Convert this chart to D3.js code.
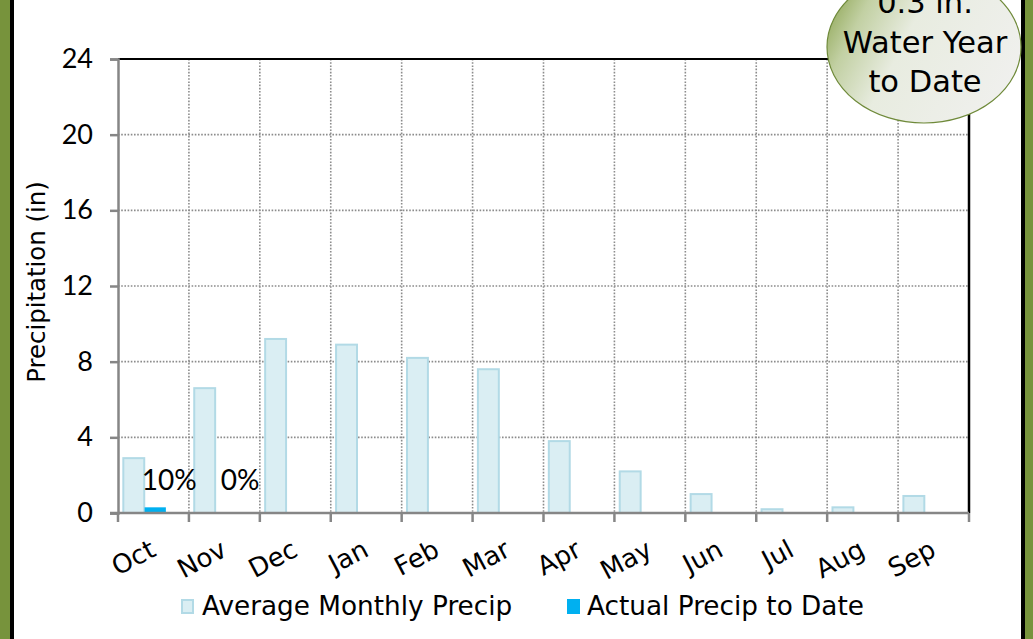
<!DOCTYPE html>
<html><head><meta charset="utf-8">
<script src="https://cdn.jsdelivr.net/npm/d3@7"></script>
<style>
html,body{margin:0;padding:0;background:#fff;}
svg{display:block;font-family:"DejaVu Sans",sans-serif;}
.num{font-family:"Lato","DejaVu Sans",sans-serif;}
</style></head>
<body><svg id="c" width="1033" height="639"></svg>
<script>
const months = ["Oct","Nov","Dec","Jan","Feb","Mar","Apr","May","Jun","Jul","Aug","Sep"];
const avgPrecip = [2.9,6.6,9.2,8.9,8.2,7.6,3.8,2.2,1.0,0.2,0.3,0.9];
const actualPrecip = [0.3,0,null,null,null,null,null,null,null,null,null,null];
const pctLabels = ["10%","0%",null,null,null,null,null,null,null,null,null,null];
const yTicks = [0,4,8,12,16,20,24];
const seriesNames = ["Average Monthly Precip","Actual Precip to Date"];
const yTitle = "Precipitation (in)";
const bubbleLines = ["0.3 in.","Water Year","to Date"];

const svg = d3.select("#c");
const W = 1033, H = 639;
const m = {left:118, right:969, top:59, bottom:513};

// frame
svg.append("rect").attr("x",0).attr("y",0).attr("width",10).attr("height",H).attr("fill","#77933C");
svg.append("rect").attr("x",10).attr("y",0).attr("width",4).attr("height",H).attr("fill","#000");
svg.append("rect").attr("x",1021).attr("y",0).attr("width",4).attr("height",H).attr("fill","#000");
svg.append("rect").attr("x",1025).attr("y",0).attr("width",8).attr("height",H).attr("fill","#77933C");

const x = d3.scaleBand().domain(months).range([m.left,m.right]).padding(0);
const y = d3.scaleLinear().domain([0,24]).range([m.bottom,m.top]);
const bw = x.bandwidth();

// gridlines
const g = svg.append("g");
g.selectAll("line.hg").data(yTicks.filter(d=>d>0&&d<24)).join("line")
  .attr("x1",m.left).attr("x2",m.right).attr("y1",d=>y(d)).attr("y2",d=>y(d))
  .attr("stroke","#8c8c8c").attr("stroke-width",1.6).attr("stroke-dasharray","1.6,1.6");
g.selectAll("line.vg").data(months.slice(1)).join("line")
  .attr("x1",d=>x(d)).attr("x2",d=>x(d)).attr("y1",m.top).attr("y2",m.bottom)
  .attr("stroke","#8c8c8c").attr("stroke-width",1.6).attr("stroke-dasharray","1.6,1.6");

// plot border top/right
svg.append("line").attr("x1",m.left).attr("x2",m.right+1).attr("y1",m.top).attr("y2",m.top).attr("stroke","#000").attr("stroke-width",2);
svg.append("line").attr("x1",m.right).attr("x2",m.right).attr("y1",m.top).attr("y2",m.bottom).attr("stroke","#000").attr("stroke-width",2.5);

// bars
svg.append("g").selectAll("rect").data(months).join("rect")
  .attr("x",d=>x(d)+bw*0.075).attr("width",bw*0.295)
  .attr("y",(d,i)=>y(avgPrecip[i])).attr("height",(d,i)=>y(0)-y(avgPrecip[i]))
  .attr("fill","#DAEEF3").attr("stroke","#B2DAE6").attr("stroke-width",2);
svg.append("g").selectAll("rect").data(months.filter((d,i)=>actualPrecip[i]!=null)).join("rect")
  .attr("x",d=>x(d)+bw*0.375).attr("width",bw*0.3)
  .attr("y",d=>y(actualPrecip[months.indexOf(d)])).attr("height",d=>y(0)-y(actualPrecip[months.indexOf(d)]))
  .attr("fill","#00B0F0");

// data labels
svg.append("g").selectAll("text").data(months.filter((d,i)=>pctLabels[i]!=null)).join("text")
  .attr("class","num")
  .attr("x",d=>x(d)+bw*0.525+14).attr("y",y(0)-23)
  .attr("text-anchor","middle").attr("font-size",28).attr("fill","#000")
  .text(d=>pctLabels[months.indexOf(d)]);

// axes
const ya = d3.axisLeft(y).tickValues(yTicks).tickSize(8).tickPadding(17).tickFormat(d3.format("d"));
const yg = svg.append("g").attr("transform",`translate(${m.left},0)`).call(ya);
yg.select(".domain").attr("stroke","#868686").attr("stroke-width",2.5);
yg.selectAll(".tick line").attr("stroke","#868686").attr("stroke-width",2.5);
yg.selectAll(".tick text").attr("class","num").attr("font-size",27).attr("fill","#000").attr("font-family",null);
yg.attr("font-family",null).attr("font-size",null);

const xb = svg.append("g");
xb.append("line").attr("x1",m.left-8).attr("x2",m.right).attr("y1",m.bottom).attr("y2",m.bottom).attr("stroke","#868686").attr("stroke-width",2.5);
const bounds = months.map(d=>x(d)).concat([m.right]);
xb.selectAll("line.t").data(bounds).join("line").attr("class","t")
  .attr("x1",d=>d).attr("x2",d=>d).attr("y1",m.bottom).attr("y2",m.bottom+9)
  .attr("stroke","#868686").attr("stroke-width",2.5);
xb.selectAll("text").data(months).join("text")
  .attr("transform",d=>`translate(${x(d)+bw/2+4},${m.bottom+42}) rotate(-28)`)
  .attr("text-anchor","end").attr("font-size",26).text(d=>d);

// y title
svg.append("text").attr("transform",`translate(45,${282}) rotate(-90)`)
  .attr("text-anchor","middle").attr("font-size",24.4).text(yTitle);

// legend
const lg = svg.append("g");
lg.append("rect").attr("x",182).attr("y",600).attr("width",11).attr("height",13).attr("fill","#DAEEF3").attr("stroke","#B2DAE6").attr("stroke-width",2);
lg.append("text").attr("x",202).attr("y",615).attr("font-size",26.3).text(seriesNames[0]);
lg.append("rect").attr("x",567).attr("y",599).attr("width",13).attr("height",15).attr("fill","#00B0F0");
lg.append("text").attr("x",587).attr("y",615).attr("font-size",26.3).text(seriesNames[1]);

// bubble
const defs = svg.append("defs");
const gr = defs.append("linearGradient").attr("id","bg").attr("x1","0").attr("y1","0.3").attr("x2","1").attr("y2","0.7");
gr.append("stop").attr("offset","0").attr("stop-color","#97ad62");
gr.append("stop").attr("offset","0.15").attr("stop-color","#c2d0a3");
gr.append("stop").attr("offset","0.4").attr("stop-color","#e8ece0");
gr.append("stop").attr("offset","1").attr("stop-color","#f0f0ee");
svg.append("ellipse").attr("cx",924).attr("cy",47).attr("rx",97).attr("ry",76)
  .attr("fill","url(#bg)").attr("stroke","#6f8a3a").attr("stroke-width",1.2);
svg.append("g").selectAll("text").data(bubbleLines).join("text")
  .attr("x",925).attr("y",(d,i)=>13+i*39.5).attr("text-anchor","middle").attr("font-size",30.5).text(d=>d);
</script></body></html>
